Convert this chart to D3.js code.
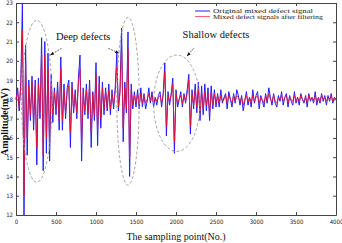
<!DOCTYPE html>
<html>
<head>
<meta charset="utf-8">
<script src="https://cdn.jsdelivr.net/npm/d3@7"></script>
<style>
  body { margin: 0; background: #fff; }
  text { font-family: "Liberation Serif", "Times New Roman", serif; }
  .tick text { font-family: "DejaVu Sans Condensed", "Liberation Sans", Arial, sans-serif; font-stretch: condensed; }
</style>
</head>
<body>
<svg id="mainsvg" width="342" height="243"></svg>
<script>
// sampling step between stored values
const sampleStep = 20;

// original mixed defect signal (blue), one value every 20 samples
const originalSignal = [
  18.0, 18.6, 17.4, 18.9, 23.0, 12.0, 20.8, 15.1, 19.0, 16.9,
  19.2, 16.4, 19.0, 14.6, 19.1, 17.0, 21.2, 14.3, 21.0, 15.2,
  20.4, 14.8, 19.3, 16.8, 18.6, 17.2, 18.9, 16.4, 20.2, 16.4,
  18.8, 17.0, 18.6, 19.0, 15.5, 18.9, 17.3, 18.5, 17.0, 19.1,
  20.3, 14.8, 18.6, 17.2, 18.8, 17.0, 19.0, 15.5, 18.4, 16.9,
  19.9, 15.6, 19.2, 16.5, 18.9, 17.2, 18.6, 17.4, 18.8, 17.2,
  18.5, 17.5, 18.6, 20.4, 17.4, 18.5, 21.7, 15.8, 18.9, 17.3,
  21.5, 14.0, 18.8, 17.5, 18.4, 17.6, 18.5, 17.5, 18.6, 17.6,
  18.3, 17.5, 17.9, 18.6, 17.8, 18.4, 17.6, 18.1, 17.7, 18.2,
  18.4, 17.6, 18.3, 19.9, 16.1, 18.4, 17.7, 18.3, 19.1, 15.2,
  18.5, 17.6, 18.0, 18.4, 17.6, 18.3, 17.8, 18.5, 19.3, 16.2,
  18.5, 17.5, 18.8, 17.3, 18.9, 16.9, 18.7, 17.2, 18.8, 17.4,
  18.6, 16.9, 18.7, 17.5, 18.5, 17.6, 18.3, 17.6, 18.5, 17.8,
  18.1, 18.3, 17.5, 18.4, 18.0, 17.6, 18.3, 17.8, 18.5, 18.2,
  17.7, 18.2, 17.4, 17.9, 18.4, 17.7, 18.1, 17.6, 18.5, 17.8,
  18.2, 18.4, 17.5, 18.2, 17.9, 17.6, 18.3, 17.8, 18.6, 18.1,
  17.7, 18.3, 17.8, 17.6, 18.2, 17.9, 18.4, 17.7, 18.1, 18.3,
  17.6, 18.2, 17.9, 17.7, 18.4, 17.8, 18.1, 17.7, 18.3, 18.0,
  17.8, 18.2, 17.6, 18.3, 17.9, 18.1, 17.8, 18.4, 17.7, 18.1,
  17.8, 18.3, 17.9, 18.2, 17.7, 18.2, 17.9, 18.3, 17.8, 18.1,
  18.0
];

// mixed defect signal after filtering (red)
const filteredSignal = [
  18.0, 18.4, 17.6, 18.7, 21.6, 13.0, 19.9, 16.0, 18.7, 17.2,
  18.9, 16.9, 18.7, 15.5, 18.8, 17.3, 20.4, 15.1, 20.3, 16.0,
  19.6, 15.7, 18.9, 17.2, 18.4, 17.5, 18.6, 16.9, 19.6, 16.9,
  18.5, 17.3, 18.4, 18.7, 16.3, 18.6, 17.5, 18.3, 17.3, 18.8,
  19.6, 15.7, 18.4, 17.4, 18.5, 17.3, 18.7, 16.3, 18.3, 17.2,
  19.3, 16.4, 18.8, 17.0, 18.6, 17.5, 18.4, 17.6, 18.5, 17.5,
  18.3, 17.7, 18.4, 19.7, 17.6, 18.3, 20.8, 16.5, 18.6, 17.5,
  20.6, 14.9, 18.5, 17.7, 18.2, 17.8, 18.3, 17.7, 18.3, 17.8,
  18.2, 17.8, 18.0, 18.3, 17.9, 18.2, 17.8, 18.1, 17.9, 18.1,
  18.2, 17.8, 18.2, 19.4, 16.6, 18.2, 17.9, 18.2, 18.8, 15.8,
  18.3, 17.8, 18.0, 18.2, 17.8, 18.2, 17.9, 18.3, 19.0, 16.6,
  18.3, 17.7, 18.5, 17.6, 18.5, 17.3, 18.4, 17.5, 18.4, 17.7,
  18.3, 17.3, 18.4, 17.7, 18.3, 17.8, 18.2, 17.8, 18.2, 17.9,
  18.0, 18.2, 17.8, 18.2, 18.0, 17.8, 18.2, 17.9, 18.2, 18.1,
  17.9, 18.1, 17.7, 18.0, 18.2, 17.9, 18.1, 17.8, 18.2, 17.9,
  18.1, 18.2, 17.8, 18.1, 18.0, 17.8, 18.2, 17.9, 18.3, 18.0,
  17.9, 18.2, 17.9, 17.8, 18.1, 18.0, 18.2, 17.9, 18.1, 18.2,
  17.8, 18.1, 18.0, 17.9, 18.2, 17.9, 18.1, 17.9, 18.2, 18.0,
  17.9, 18.1, 17.8, 18.2, 18.0, 18.1, 17.9, 18.2, 17.9, 18.1,
  17.9, 18.2, 18.0, 18.1, 17.9, 18.1, 18.0, 18.2, 17.9, 18.1,
  18.0
];

const xTicks = [0, 500, 1000, 1500, 2000, 2500, 3000, 3500, 4000];
const yTicks = [12, 13, 14, 15, 16, 17, 18, 19, 20, 21, 22, 23];

const legendLabels = ['Original mixed defect signal', 'Mixed defect signals after filtering'];
const seriesColors = ['#1f1fff', '#f0102a'];

// dashed ellipses around the defects: [center sample, center mV, half width samples, half height mV]
const defectZones = [
  [260, 17.9, 190, 4.2],
  [1400, 17.9, 140, 4.35],
  [2010, 17.8, 290, 2.5]
];

const svg = d3.select('#mainsvg');
const margin = {top: 3, right: 6, bottom: 28, left: 16};
const width = +svg.attr('width') - margin.left - margin.right;
const height = +svg.attr('height') - margin.top - margin.bottom;
const g = svg.append('g').attr('transform', `translate(${margin.left},${margin.top})`);

const x = d3.scaleLinear().domain([0, 4000]).range([0, width]);
const y = d3.scaleLinear().domain([12, 23]).range([height, 0]);

// box axes, MATLAB style ticks pointing inward
function styleAxis(sel) {
  sel.select('.domain').attr('stroke', '#444');
  sel.selectAll('.tick line').attr('stroke', '#444');
  sel.selectAll('.tick text').attr('fill', '#222').style('font-size', '6px');
}
g.append('g').attr('transform', `translate(0,${height})`)
  .call(d3.axisBottom(x).tickValues(xTicks).tickFormat(d3.format('d')).tickSizeInner(-3).tickSizeOuter(0).tickPadding(5))
  .call(styleAxis);
g.append('g')
  .call(d3.axisLeft(y).tickValues(yTicks).tickSizeInner(-3).tickSizeOuter(0).tickPadding(3))
  .call(styleAxis);
g.append('g')
  .call(d3.axisTop(x).tickValues(xTicks).tickSizeInner(-3).tickSizeOuter(0).tickFormat(''))
  .call(styleAxis);
g.append('g').attr('transform', `translate(${width},0)`)
  .call(d3.axisRight(y).tickValues(yTicks).tickSizeInner(-3).tickSizeOuter(0).tickFormat(''))
  .call(styleAxis);

// signals
const line = d3.line()
  .x((d, i) => x(i * sampleStep))
  .y(d => y(d));

g.append('path').datum(originalSignal)
  .attr('fill', 'none')
  .attr('stroke', seriesColors[0])
  .attr('stroke-width', 1)
  .attr('d', line);

g.append('path').datum(filteredSignal)
  .attr('fill', 'none')
  .attr('stroke', seriesColors[1])
  .attr('stroke-opacity', 0.85)
  .attr('stroke-width', 1)
  .attr('d', line);

// defect ellipses
g.selectAll('.zone').data(defectZones).enter().append('ellipse')
  .attr('class', 'zone')
  .attr('cx', d => x(d[0]))
  .attr('cy', d => y(d[1]))
  .attr('rx', d => x(d[2]) - x(0))
  .attr('ry', d => y(0) - y(d[3]))
  .attr('fill', 'none')
  .attr('stroke', '#999')
  .attr('stroke-width', 0.9)
  .attr('stroke-dasharray', '3,2');

// annotations
svg.append('defs').append('marker')
  .attr('id', 'arrow')
  .attr('viewBox', '0 0 10 10')
  .attr('refX', 9).attr('refY', 5)
  .attr('markerWidth', 5).attr('markerHeight', 5)
  .attr('orient', 'auto')
  .append('path').attr('d', 'M0,1 L10,5 L0,9 Z').attr('fill', '#111');

const labels = [
  {text: 'Deep defects', s: 840, v: 21.1},
  {text: 'Shallow defects', s: 2500, v: 21.2}
];
g.selectAll('.anno').data(labels).enter().append('text')
  .attr('x', d => x(d.s))
  .attr('y', d => y(d.v))
  .attr('text-anchor', 'middle')
  .style('font-size', '10.5px')
  .attr('fill', '#111')
  .text(d => d.text);

// arrows: [from sample, from mV, to sample, to mV]
const arrows = [
  [570, 20.65, 430, 20.3],
  [1155, 20.65, 1285, 20.4],
  [2220, 20.65, 2140, 20.25]
];
g.selectAll('.arrow').data(arrows).enter().append('line')
  .attr('x1', d => x(d[0])).attr('y1', d => y(d[1]))
  .attr('x2', d => x(d[2])).attr('y2', d => y(d[3]))
  .attr('stroke', '#444')
  .attr('stroke-width', 0.8)
  .attr('stroke-dasharray', '2,1')
  .attr('marker-end', 'url(#arrow)');

// legend
const legendWidths = [100, 110];
const legend = g.append('g').attr('transform', 'translate(179,8)');
legendLabels.forEach((lab, i) => {
  legend.append('line')
    .attr('x1', 0).attr('x2', 15)
    .attr('y1', i * 5.6).attr('y2', i * 5.6)
    .attr('stroke', seriesColors[i])
    .attr('stroke-opacity', i ? 0.7 : 1)
    .attr('stroke-width', 1);
  legend.append('text')
    .attr('x', 18).attr('y', i * 5.6 + 2)
    .style('font-size', '5.6px')
    .attr('textLength', legendWidths[i])
    .attr('lengthAdjust', 'spacingAndGlyphs')
    .attr('fill', '#222')
    .text(lab);
});

// axis titles
g.append('text')
  .attr('x', width / 2)
  .attr('y', height + 25)
  .attr('text-anchor', 'middle')
  .style('font-size', '10px')
  .attr('fill', '#111')
  .text('The sampling point(No.)');

g.append('text')
  .attr('transform', 'rotate(-90)')
  .attr('x', -119)
  .attr('y', -8)
  .attr('text-anchor', 'middle')
  .style('font-size', '10px')
  .style('font-weight', 'bold')
  .attr('fill', '#111')
  .text('Amplitude(mV)');
</script>
</body>
</html>
